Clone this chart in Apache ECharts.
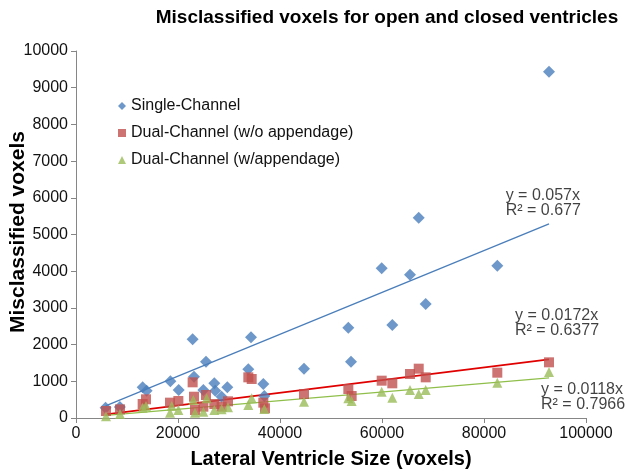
<!DOCTYPE html>
<html>
<head>
<meta charset="utf-8">
<script src="https://cdn.jsdelivr.net/npm/echarts@6/dist/echarts.min.js"></script>
<style>html,body{margin:0;padding:0;background:#fff}#c{width:629px;height:475px}</style>
</head>
<body>
<div id="c"></div>
<script>
var seriesNames = ['Single-Channel', 'Dual-Channel (w/o appendage)', 'Dual-Channel (w/appendage)'];
var singleChannel = [[5800,280],[8600,300],[13070,836],[13850,744],[18500,1000],[20130,763],[22870,2144],[23140,1126],[24970,763],[25490,1535],[27120,945],[27300,744],[28560,580],[29670,836],[33790,1327],[34310,2198],[36730,926],[36920,600],[44710,1344],[53400,2461],[53920,1535],[59940,4079],[62020,2534],[65490,3905],[67200,5458],[68570,3106],[82610,4150],[92750,9436]];
var dualNoApp = [[5880,190],[8630,236],[13070,381],[13730,509],[18430,418],[20070,463],[22870,972],[23140,580],[23330,218],[24970,308],[25490,627],[27120,381],[28560,308],[29800,454],[33790,1108],[34450,1063],[36730,418],[37060,264],[44710,654],[53400,790],[54050,600],[59940,1017],[62020,945],[65490,1199],[67200,1344],[68570,1108],[82610,1235],[92750,1517]];
var dualApp = [[5880,50],[8630,109],[13070,280],[13730,327],[18430,145],[18760,327],[20070,218],[23000,490],[23330,145],[24970,172],[25620,536],[27120,218],[28560,236],[29800,290],[33790,354],[34450,536],[36920,245],[44710,445],[53400,536],[54050,463],[59940,717],[62020,554],[65490,763],[67200,654],[68570,763],[82610,962],[92750,1253]];
var slopes = [0.057, 0.0172, 0.0118];
var trendLabels = ['y = 0.057x\nR² = 0.677', 'y = 0.0172x\nR² = 0.6377', 'y = 0.0118x\nR² = 0.7966'];
var labelAnchors = [[84250,5858],[86080,2589],[91180,572]];
var xTicks = [0, 20000, 40000, 60000, 80000, 100000];
var yTicks = [0,1000,2000,3000,4000,5000,6000,7000,8000,9000,10000];

var markerColors = ['#4a7ebb', '#c0504d', '#9bbb59'];
var lineColors = ['#4a7ebb', '#e00000', '#8fbf4a'];
var symbols = ['diamond', 'rect', 'triangle'];
var sizes = [12, 10, 10];
var dataSets = [singleChannel, dualNoApp, dualApp];
var FONT = 'Liberation Sans, Arial, sans-serif';

var series = [];
dataSets.forEach(function (d, i) {
  series.push({
    name: seriesNames[i], type: 'scatter', data: d, symbol: symbols[i], symbolSize: sizes[i],
    itemStyle: { color: markerColors[i] }, z: 3 + i
  });
});
dataSets.forEach(function (d, i) {
  var xs = d.map(function (p) { return p[0]; });
  var x0 = Math.min.apply(null, xs), x1 = Math.max.apply(null, xs);
  series.push({
    name: 'trend' + i, type: 'line', data: [[x0, slopes[i] * x0], [x1, slopes[i] * x1]],
    symbol: 'none', lineStyle: { color: lineColors[i], width: i === 1 ? 1.8 : 1.3 }, z: 2, silent: true
  });
});
series.push({
  name: 'labels', type: 'scatter', symbolSize: 0, silent: true,
  data: labelAnchors.map(function (a, i) { return { value: a, label: { formatter: trendLabels[i] } }; }),
  label: { show: true, position: [0, 0], align: 'left', verticalAlign: 'middle', fontSize: 16, lineHeight: 15, color: '#111', fontFamily: FONT }
});

function plain(v) { return String(v); }

var chart = echarts.init(document.getElementById('c'));
chart.setOption({
  backgroundColor: '#fff',
  animation: false,
  title: { text: 'Misclassified voxels for open and closed ventricles', left: 382, top: 3, textAlign: 'center',
    textStyle: { fontSize: 19, fontWeight: 'bold', color: '#000', fontFamily: FONT } },
  legend: {
    data: seriesNames.map(function (n, i) { return { name: n, icon: symbols[i] }; }),
    orient: 'vertical', left: 113, top: 93, itemWidth: 8, itemHeight: 8, itemGap: 11,
    textStyle: { fontSize: 16, color: '#111', fontFamily: FONT }
  },
  graphic: [{
    type: 'text', x: 18, y: 232, rotation: Math.PI / 2,
    style: { text: 'Misclassified voxels', fontSize: 21, fontWeight: 'bold', fill: '#000', fontFamily: FONT,
      align: 'center', verticalAlign: 'middle' }
  }],
  grid: { left: 76, right: 43, top: 51, bottom: 57, containLabel: false, outerBoundsMode: 'none' },
  xAxis: {
    type: 'value', min: xTicks[0], max: xTicks[xTicks.length - 1], interval: 20000,
    name: 'Lateral Ventricle Size (voxels)', nameLocation: 'middle', nameGap: 31,
    nameTextStyle: { fontSize: 20, fontWeight: 'bold', color: '#000', fontFamily: FONT },
    axisLine: { lineStyle: { color: '#868686' } },
    axisTick: { show: true, length: 5, lineStyle: { color: '#868686' } },
    axisLabel: { fontSize: 16, color: '#111', margin: 8, fontFamily: FONT, formatter: plain },
    splitLine: { show: false }
  },
  yAxis: {
    type: 'value', min: yTicks[0], max: yTicks[yTicks.length - 1], interval: 1000,
    axisLine: { show: true, lineStyle: { color: '#868686' } },
    axisTick: { show: true, length: 5, lineStyle: { color: '#868686' } },
    axisLabel: { fontSize: 16, color: '#111', margin: 8, fontFamily: FONT, formatter: plain },
    splitLine: { show: false }
  },
  series: series
});
</script>
</body>
</html>
